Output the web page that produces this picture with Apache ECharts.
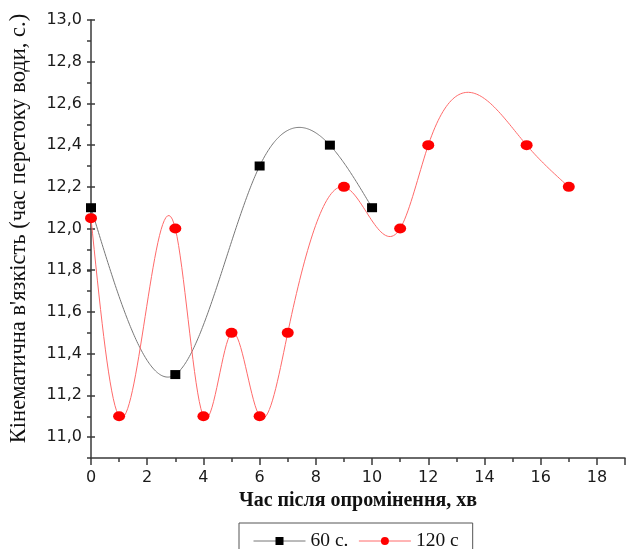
<!DOCTYPE html>
<html><head><meta charset="utf-8">
<script src="https://cdn.jsdelivr.net/npm/echarts@6/dist/echarts.min.js"></script>
<style>html,body{margin:0;padding:0;background:#fff}#c{width:628px;height:549px}</style>
</head><body><div id="c"></div>
<script>
const x60 = [0, 3, 6, 8.5, 10];
const y60 = [12.1, 11.3, 12.3, 12.4, 12.1];
const x120 = [0, 1, 3, 4, 5, 6, 7, 9, 11, 12, 15.5, 17];
const y120 = [12.05, 11.1, 12.0, 11.1, 11.5, 11.1, 11.5, 12.2, 12.0, 12.4, 12.4, 12.2];
const seriesNames = ['60 с.', '120 с'];
const xTitle = 'Час після опромінення, хв';
const yTitle = "Кінематична в'язкість (час перетоку води, с.)";

const pair = (xs, ys) => xs.map((v, i) => [v, ys[i]]);

// natural cubic spline rendering of the curve through the data points
function splineFn(xs, ys) {
  const n = xs.length, h = [], m = new Array(n).fill(0);
  for (let i = 0; i < n - 1; i++) h.push(xs[i + 1] - xs[i]);
  const A = [], B = [], C = [], D = [];
  for (let i = 1; i < n - 1; i++) {
    A.push(h[i - 1]); B.push(2 * (h[i - 1] + h[i])); C.push(h[i]);
    D.push(6 * ((ys[i + 1] - ys[i]) / h[i] - (ys[i] - ys[i - 1]) / h[i - 1]));
  }
  const k = B.length;
  for (let i = 1; i < k; i++) {
    const w = A[i] / B[i - 1];
    B[i] -= w * C[i - 1]; D[i] -= w * D[i - 1];
  }
  if (k > 0) {
    m[k] = D[k - 1] / B[k - 1];
    for (let i = k - 2; i >= 0; i--) m[i + 1] = (D[i] - C[i] * m[i + 2]) / B[i];
  }
  return function (x) {
    let i = 0;
    while (i < n - 2 && x > xs[i + 1]) i++;
    const hi = h[i], t1 = xs[i + 1] - x, t0 = x - xs[i];
    return m[i] * t1 * t1 * t1 / (6 * hi) + m[i + 1] * t0 * t0 * t0 / (6 * hi)
      + (ys[i] / hi - m[i] * hi / 6) * t1 + (ys[i + 1] / hi - m[i + 1] * hi / 6) * t0;
  };
}
function curveSeries(xs, ys, color) {
  const f = splineFn(xs, ys);
  return {
    type: 'custom', xAxisIndex: 0, yAxisIndex: 0, z: 1, silent: true,
    data: pair(xs, ys),
    renderItem: function (params, api) {
      if (params.dataIndex !== 0) return null;
      const pts = [];
      const x0 = xs[0], x1 = xs[xs.length - 1], steps = 300;
      for (let s = 0; s <= steps; s++) {
        const x = x0 + (x1 - x0) * s / steps;
        pts.push(api.coord([x, f(x)]));
      }
      return {type: 'polyline', shape: {points: pts},
        style: {stroke: color, lineWidth: 1, fill: null}};
    }
  };
}

const chart = echarts.init(document.getElementById('c'));
const axisCol = '#3a3a3a';
chart.setOption({
  animation: false,
  grid: [
    {left: 91, right: -4, top: 20, bottom: 91},
    {left: 91, right: -4, top: 20, bottom: 112}
  ],
  xAxis: [
    {gridIndex: 0, type: 'value', min: 0, max: 19, interval: 2,
     name: xTitle, nameLocation: 'middle', nameGap: 33,
     nameTextStyle: {fontFamily: 'Liberation Serif', fontSize: 20, fontWeight: 'bold', color: '#111'},
     axisLine: {lineStyle: {color: axisCol, width: 1.5}},
     axisTick: {length: 7, lineStyle: {color: axisCol, width: 1.5}},
     minorTick: {show: true, splitNumber: 2, length: 4, lineStyle: {color: axisCol, width: 1.5}},
     splitLine: {show: false},
     axisLabel: {fontFamily: 'DejaVu Sans', fontSize: 16, color: '#1a1a1a', margin: 12,
       formatter: v => (v <= 18 ? String(v) : '')}},
    {gridIndex: 1, type: 'value', min: 0, max: 19, show: false}
  ],
  yAxis: [
    {gridIndex: 0, type: 'value', min: 10.9, max: 13.0, interval: 0.1,
     axisLine: {show: true, lineStyle: {color: axisCol, width: 1.5}},
     axisTick: {show: true, length: 4, lineStyle: {color: axisCol, width: 1.5}},
     axisLabel: {show: false},
     splitLine: {show: false}},
    {gridIndex: 1, type: 'value', min: 11.0, max: 13.0, interval: 0.2,
     name: yTitle, nameLocation: 'middle', nameGap: 64,
     nameTextStyle: {fontFamily: 'Liberation Serif', fontSize: 22.5, color: '#111'},
     axisLine: {show: false},
     axisTick: {show: true, length: 8, lineStyle: {color: axisCol, width: 1.5}},
     axisLabel: {fontFamily: 'DejaVu Sans', fontSize: 16, color: '#1a1a1a', margin: 13,
       formatter: v => v.toFixed(1).replace('.', ',')},
     splitLine: {show: false}}
  ],
  legend: {
    left: 239, top: 523, orient: 'horizontal',
    borderColor: '#555', borderWidth: 1, padding: [8, 14, 14, 14],
    itemWidth: 52, itemHeight: 10, itemGap: 10,
    textStyle: {fontFamily: 'Liberation Serif', fontSize: 19.5, color: '#111'},
    data: [
      {name: seriesNames[0], lineStyle: {color: '#777', width: 1, opacity: 1}},
      {name: seriesNames[1], lineStyle: {color: '#ff6a6a', width: 1, opacity: 1}}
    ]
  },
  series: [
    curveSeries(x60, y60, '#777'),
    curveSeries(x120, y120, '#ff6a6a'),
    {name: seriesNames[0], type: 'line', xAxisIndex: 0, yAxisIndex: 0, z: 3,
     data: pair(x60, y60), symbol: 'rect', symbolSize: [10, 9],
     itemStyle: {color: '#000'}, lineStyle: {color: '#777', width: 1, opacity: 0}},
    {name: seriesNames[1], type: 'line', xAxisIndex: 0, yAxisIndex: 0, z: 3,
     data: pair(x120, y120), symbol: 'circle', symbolSize: [12, 10],
     itemStyle: {color: '#ff0000'}, lineStyle: {color: '#ff6a6a', width: 1, opacity: 0}}
  ]
});
</script></body></html>
